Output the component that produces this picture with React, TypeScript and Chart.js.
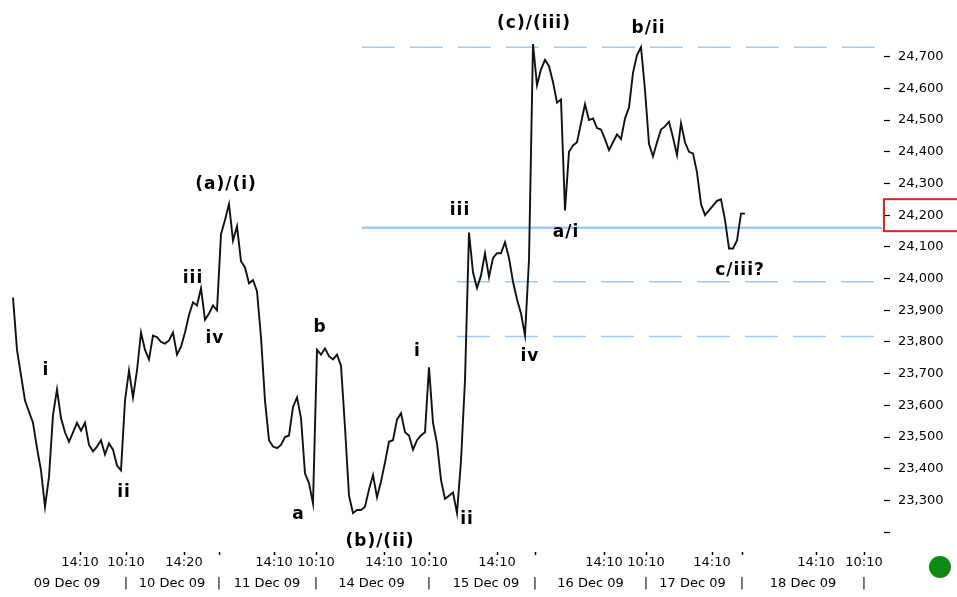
import React, { useEffect, useRef } from 'react';
import { Chart, registerables } from 'chart.js';

Chart.register(...registerables);

// Price series (one value per sampled bar, index = bar number)
const priceValues = [
  23940, 23775, 23695, 23615, 23580, 23545, 23465, 23395, 23280, 23375,
  23570, 23650, 23560, 23515, 23485, 23515, 23545, 23520, 23545, 23475,
  23455, 23470, 23490, 23445, 23480, 23460, 23410, 23395, 23615, 23710,
  23625, 23710, 23830, 23775, 23745, 23820, 23815, 23800, 23795, 23805,
  23830, 23760, 23785, 23830, 23885, 23925, 23915, 23970, 23870, 23890,
  23915, 23900, 24140, 24185, 24235, 24120, 24165, 24055, 24035, 23985,
  23995, 23960, 23815, 23615, 23490, 23470, 23465, 23475, 23500, 23505,
  23595, 23625, 23560, 23385, 23355, 23290, 23775, 23760, 23780, 23755,
  23745, 23760, 23725, 23530, 23315, 23260, 23270, 23270, 23280, 23335,
  23380, 23310, 23360, 23420, 23485, 23490, 23555, 23575, 23515, 23505,
  23460, 23490, 23505, 23515, 23720, 23545, 23480, 23365, 23305, 23315,
  23325, 23260, 23425, 23680, 24145, 24020, 23970, 24010, 24080, 24005,
  24065, 24080, 24080, 24115, 24065, 23990, 23935, 23890, 23820, 24060,
  24740, 24610, 24660, 24690, 24670, 24620, 24555, 24565, 24215, 24400,
  24420, 24430, 24490, 24550, 24500, 24505, 24475, 24470, 24440, 24405,
  24430, 24455, 24440, 24505, 24540, 24650, 24705, 24730, 24595, 24425,
  24385, 24430, 24470, 24480, 24495, 24445, 24390, 24490, 24430, 24400,
  24395, 24335, 24235, 24200, 24215, 24230, 24245, 24250, 24185, 24095,
  24095, 24120, 24205, 24205,
];

// Horizontal reference levels
const levelValues = [24730, 24160, 23990, 23817];
const levelStarts = [87.25, 87.25, 111, 111];
const levelEnd = 217.25;
const levelDashed = [true, false, true, true];

// Time axis (bar positions)
const timeTickPos = [16.75, 28.25, 42.75, 51.5, 65.25, 75.75, 92.75, 104, 121, 130.5, 147.75, 158.25, 174.75, 182.25, 200.75, 212.75];
const timeTickLabels = ['14:10', '10:10', '14:20', '', '14:10', '10:10', '14:10', '10:10', '14:10', '', '14:10', '10:10', '14:10', '', '14:10', '10:10'];

// Date axis
const dateLabelPos = [13.5, 39.75, 63.5, 89.6, 118.25, 144.4, 169.9, 197.5];
const dateLabels = ['09 Dec 09', '10 Dec 09', '11 Dec 09', '14 Dec 09', '15 Dec 09', '16 Dec 09', '17 Dec 09', '18 Dec 09'];
const daySeparatorPos = [28.25, 51.5, 75.75, 104, 130.5, 158.25, 182.25, 212.75];

// Y axis
const yMin = 23150;
const yMax = 24800;
const yStep = 100;
const yTopTick = 24700;
const yHiddenTick = 23200;
const currentPrice = 24200;

// Wave labels
const waveTexts = ['i', 'ii', 'iii', 'iv', '(a)/(i)', 'a', 'b', '(b)/(ii)', 'i', 'ii', 'iii', 'iv', '(c)/(iii)', 'a/i', 'b/ii', 'c/iii?'];
const waveX = [8.25, 27.75, 45, 50.5, 53.25, 71.4, 76.75, 91.75, 101.1, 113.5, 111.75, 129.25, 130.25, 138.25, 158.9, 181.75];
const waveY = [23710, 23325, 24000, 23810, 24295, 23255, 23845, 23170, 23770, 23240, 24215, 23755, 24805, 24145, 24790, 24025];

const X_MIN = -2;
const X_MAX = 217.75;
const FONT = '"DejaVu Sans", Verdana, sans-serif';
const LEVEL_COLOR = '#9fcbf3';

const dateTicks = [
  ...dateLabelPos.map((v, i) => ({ value: v, label: dateLabels[i] })),
  ...daySeparatorPos.map((v) => ({ value: v, label: '|' })),
].sort((a, b) => a.value - b.value);

const annotationPlugin = {
  id: 'annotations',
  afterDatasetsDraw(chart: any) {
    const { ctx, scales } = chart;
    const xs = scales.x;
    const ys = scales.y;
    ctx.save();
    ctx.fillStyle = '#000';
    ctx.font = `bold 17px ${FONT}`;
    ctx.textAlign = 'center';
    ctx.textBaseline = 'middle';
    try { (ctx as any).letterSpacing = '1px'; } catch (e) { /* ignore */ }
    waveTexts.forEach((t, i) => {
      ctx.fillText(t, xs.getPixelForValue(waveX[i]), ys.getPixelForValue(waveY[i]));
    });
    try { (ctx as any).letterSpacing = '0px'; } catch (e) { /* ignore */ }
    ctx.restore();
  },
  afterDraw(chart: any) {
    const { ctx, scales, chartArea, width } = chart;
    const ys = scales.y;
    ctx.save();
    const py = ys.getPixelForValue(currentPrice);
    ctx.strokeStyle = '#ee1c1c';
    ctx.lineWidth = 2;
    ctx.strokeRect(chartArea.right, py - 16, width - chartArea.right + 10, 32);
    ctx.fillStyle = '#0e8a0e';
    ctx.beginPath();
    ctx.arc(940, 567, 11, 0, Math.PI * 2);
    ctx.fill();
    ctx.restore();
  },
};

export default function App() {
  const ref = useRef<HTMLCanvasElement>(null);

  useEffect(() => {
    if (!ref.current) return;
    const priceData = priceValues.map((v, i) => ({ x: i, y: v }));
    const levelSets = levelValues.map((v, i) => ({
      label: 'level' + i,
      data: [{ x: levelStarts[i], y: v }, { x: levelEnd, y: v }],
      borderColor: LEVEL_COLOR,
      borderWidth: levelDashed[i] ? 1.5 : 2.5,
      borderDash: levelDashed[i] ? [33, 15] : [],
      pointRadius: 0,
      fill: false,
    }));
    const chart = new Chart(ref.current, {
      type: 'line',
      data: {
        datasets: [
          {
            label: 'price',
            data: priceData,
            borderColor: '#111',
            borderWidth: 1.9,
            pointRadius: 0,
            tension: 0,
            fill: false,
          },
          ...levelSets,
        ] as any,
      },
      options: {
        responsive: false,
        animation: false,
        devicePixelRatio: 1,
        layout: { padding: { top: 25, left: 5, right: 0, bottom: 0 } },
        plugins: { legend: { display: false }, tooltip: { enabled: false } },
        scales: {
          x: {
            type: 'linear',
            position: 'bottom',
            weight: 0,
            min: X_MIN,
            max: X_MAX,
            afterBuildTicks: (s: any) => {
              s.ticks = timeTickPos.map((v) => ({ value: v }));
            },
            afterFit: (s: any) => { s.height = 20; },
            ticks: {
              autoSkip: false,
              maxRotation: 0,
              minRotation: 0,
              padding: 0,
              color: '#000',
              font: { family: FONT, size: 13 },
              callback: (_v: any, i: number) => timeTickLabels[i],
            },
            grid: {
              display: true,
              drawOnChartArea: false,
              drawTicks: true,
              tickLength: 7,
              tickColor: '#000',
              tickWidth: 1.5,
              tickBorderDash: [0, 4, 3, 20],
            },
            border: { display: false },
          },
          x2: {
            type: 'linear',
            position: 'bottom',
            weight: 1,
            min: X_MIN,
            max: X_MAX,
            afterBuildTicks: (s: any) => {
              s.ticks = dateTicks.map((d) => ({ value: d.value }));
            },
            afterFit: (s: any) => { s.height = 29; },
            ticks: {
              autoSkip: false,
              maxRotation: 0,
              minRotation: 0,
              padding: 0,
              color: '#000',
              font: { family: FONT, size: 13 },
              callback: (_v: any, i: number) => dateTicks[i].label,
            },
            grid: { display: false },
            border: { display: false },
          },
          y: {
            type: 'linear',
            position: 'right',
            min: yMin,
            max: yMax,
            afterBuildTicks: (s: any) => {
              s.ticks = s.ticks.filter((t: any) => t.value <= yTopTick);
            },
            afterFit: (s: any) => { s.width = 73; },
            ticks: {
              stepSize: yStep,
              includeBounds: false,
              padding: 8,
              color: '#000',
              font: { family: FONT, size: 13 },
              callback: (v: any) => (v === yHiddenTick ? '' : Number(v).toLocaleString('en-US')),
            },
            grid: {
              display: true,
              drawOnChartArea: false,
              drawTicks: true,
              tickLength: 6,
              tickColor: '#000',
              tickWidth: 1.2,
            },
            border: { display: false },
          },
        },
      } as any,
      plugins: [annotationPlugin],
    });
    return () => chart.destroy();
  }, []);

  return (
    <div style={{ position: 'fixed', left: 0, top: 0, width: 957, height: 597, background: '#fff' }}>
      <canvas ref={ref} width={957} height={597} style={{ display: 'block', width: 957, height: 597 }} />
    </div>
  );
}
